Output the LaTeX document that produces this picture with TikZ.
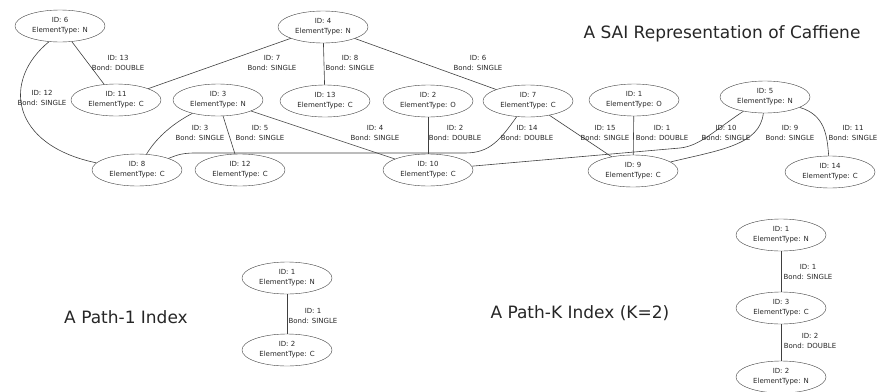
\documentclass[tikz,border=0pt]{standalone}
\usepackage{fontspec}
\setmainfont{DejaVu Sans}
\usetikzlibrary{shapes.geometric}

\tikzset{
  atom/.style={draw=black!75, ellipse, minimum width=90pt, minimum height=32pt,
    inner sep=0pt, align=center, font=\fontsize{7}{10}\selectfont, text=black!85},
  bondlbl/.style={align=center, inner sep=1pt, font=\fontsize{7}{10}\selectfont, text=black!85},
  bond/.style={draw=black!75, line width=0.6pt},
  caption/.style={font=\fontsize{17}{20}\selectfont, text=black!85}
}

\begin{document}
\begin{tikzpicture}[x=1pt, y=-1pt]
\useasboundingbox (0,0) rectangle (878,391);

\node[atom] (a6)  at (60,26)   {ID: 6\\ElementType: N};
\node[atom] (a4)  at (323,27)  {ID: 4\\ElementType: N};
\node[atom] (a11) at (116,100) {ID: 11\\ElementType: C};
\node[atom] (a3)  at (218,100) {ID: 3\\ElementType: N};
\node[atom] (a13) at (325,101) {ID: 13\\ElementType: C};
\node[atom] (a2)  at (428,101) {ID: 2\\ElementType: O};
\node[atom] (a7)  at (528,101) {ID: 7\\ElementType: C};
\node[atom] (a1)  at (634,100) {ID: 1\\ElementType: O};
\node[atom] (a5)  at (765,97)  {ID: 5\\ElementType: N};
\node[atom] (a8)  at (137,170) {ID: 8\\ElementType: C};
\node[atom] (a12) at (240,170) {ID: 12\\ElementType: C};
\node[atom] (a10) at (428,170) {ID: 10\\ElementType: C};
\node[atom] (a9)  at (633,171) {ID: 9\\ElementType: C};
\node[atom] (a14) at (830,172) {ID: 14\\ElementType: C};

\node[caption] (sai) at (722,34) {A SAI Representation of Caffiene};

\draw[bond] (a6) -- (a11);
\draw[bond] (a6.235) .. controls (2,80) and (10,145) .. (a8.170);
\draw[bond] (a4) -- (a11);
\draw[bond] (a4) -- (a13);
\draw[bond] (a4) -- (a7);
\draw[bond] (a3) .. controls (170,125) and (155,140) .. (a8);
\draw[bond] (a3) -- (a12);
\draw[bond] (a3) -- (a10);
\draw[bond] (a2) -- (a10);
\draw[bond] (a7) .. controls (500,140) and (490,153) .. (465,153) -- (195,153)
  .. controls (180,153) and (175,156) .. (a8);
\draw[bond] (a7) -- (a9);
\draw[bond] (a1) -- (a9);
\draw[bond] (a5) .. controls (715,130) and (700,146) .. (680,148) -- (a10);
\draw[bond] (a5) .. controls (760,145) and (720,150) .. (a9);
\draw[bond] (a5) .. controls (825,115) and (827,135) .. (a14);

\node[bondlbl] (b13) at (118,63)  {ID: 13\\Bond: DOUBLE};
\node[bondlbl] (b12) at (42,98)   {ID: 12\\Bond: SINGLE};
\node[bondlbl] (b7)  at (272,63)  {ID: 7\\Bond: SINGLE};
\node[bondlbl] (b8)  at (350,63)  {ID: 8\\Bond: SINGLE};
\node[bondlbl] (b6)  at (478,63)  {ID: 6\\Bond: SINGLE};
\node[bondlbl] (b3)  at (200,133) {ID: 3\\Bond: SINGLE};
\node[bondlbl] (b5)  at (260,133) {ID: 5\\Bond: SINGLE};
\node[bondlbl] (b4)  at (375,133) {ID: 4\\Bond: SINGLE};
\node[bondlbl] (b2)  at (455,133) {ID: 2\\Bond: DOUBLE};
\node[bondlbl] (b14) at (527,133) {ID: 14\\Bond: DOUBLE};
\node[bondlbl] (b15) at (605,133) {ID: 15\\Bond: SINGLE};
\node[bondlbl] (b1)  at (662,133) {ID: 1\\Bond: DOUBLE};
\node[bondlbl] (b10) at (726,133) {ID: 10\\Bond: SINGLE};
\node[bondlbl] (b9)  at (790,133) {ID: 9\\Bond: SINGLE};
\node[bondlbl] (b11) at (853,133) {ID: 11\\Bond: SINGLE};

\node[caption] (path1) at (126,317) {A Path-1 Index};
\node[atom] (pa1) at (287,278) {ID: 1\\ElementType: N};
\node[atom] (pa2) at (287,350) {ID: 2\\ElementType: C};
\draw[bond] (pa1) -- (pa2);
\node[bondlbl] (pb1) at (313,316) {ID: 1\\Bond: SINGLE};

\node[caption, anchor=west] (pathk) at (487,313) {A Path-K Index (K=2)};
\node[atom] (ka1) at (781,235) {ID: 1\\ElementType: N};
\node[atom] (ka3) at (781,308) {ID: 3\\ElementType: C};
\node[atom] (ka2) at (781,377) {ID: 2\\ElementType: N};
\draw[bond] (ka1) -- (ka3);
\draw[bond] (ka3) -- (ka2);
\node[bondlbl] (kb1) at (808,272) {ID: 1\\Bond: SINGLE};
\node[bondlbl] (kb2) at (810,341) {ID: 2\\Bond: DOUBLE};
\end{tikzpicture}
\end{document}
